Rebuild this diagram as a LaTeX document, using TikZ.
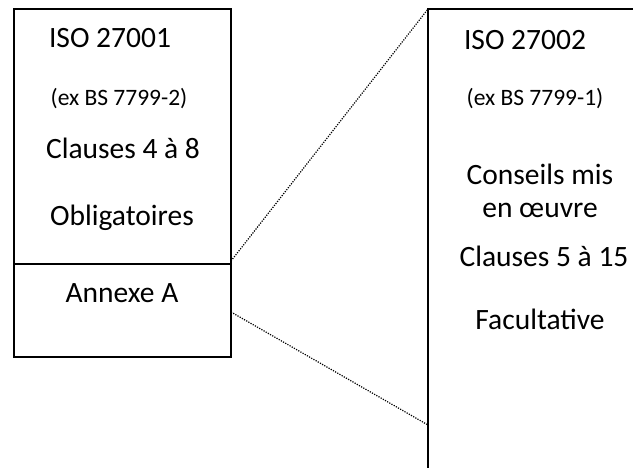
\documentclass[tikz,border=0pt]{standalone}
\usepackage{fontspec}
\setmainfont{Carlito}
\begin{document}
\begin{tikzpicture}[x=1pt,y=-1pt,
  frame/.style={draw=black, line width=2pt},
  block/.style={frame, anchor=north west, minimum width=217pt, inner sep=0pt, outer sep=0pt},
  link/.style={draw=black, line width=1.2pt, dash pattern=on 1.2pt off 1.3pt},
  big/.style={font=\fontsize{29.5}{35}\selectfont, anchor=base, inner sep=0pt},
  small/.style={font=\fontsize{23.5}{28}\selectfont, anchor=base, inner sep=0pt}]
\useasboundingbox (0,0) rectangle (633,468);
\clip (0,0) rectangle (633,468);

% ISO 27001: mandatory clauses above, annex below
\node[block, minimum height=255pt] (req) at (14,9) {};
\node[block, minimum height=93pt] (annex) at (req.south west) {};

\node[big]   (t1) at (110,48)  {ISO 27001};
\node[small] (t2) at (119,106) {(ex BS 7799-2)};
\node[big]   (t3) at (123,159) {Clauses 4 à 8};
\node[big]   (t4) at (122,226) {Obligatoires};
\node[big]   (t5) at (122,303) {Annexe A};

% ISO 27002: open-ended block running off the page
\coordinate (gtop) at (428,9);
\coordinate (gbot) at (428,425);
\draw[frame] (428,480) -- (gtop) -- (660,9);

\node[big]   (u1) at (525,50)  {ISO 27002};
\node[small] (u2) at (535,106) {(ex BS 7799-1)};
\node[big]   (u3) at (540,185) {Conseils mis};
\node[big]   (u4) at (540,218) {en œuvre};
\node[big]   (u5) at (544,267) {Clauses 5 à 15};
\node[big]   (u6) at (540,330) {Facultative};

% annex expanded into the guidance standard
\draw[link] ([yshift=3pt]req.south east) -- (gtop);
\draw[link] ([yshift=-1.5pt]annex.east) -- (gbot);
\end{tikzpicture}
\end{document}
